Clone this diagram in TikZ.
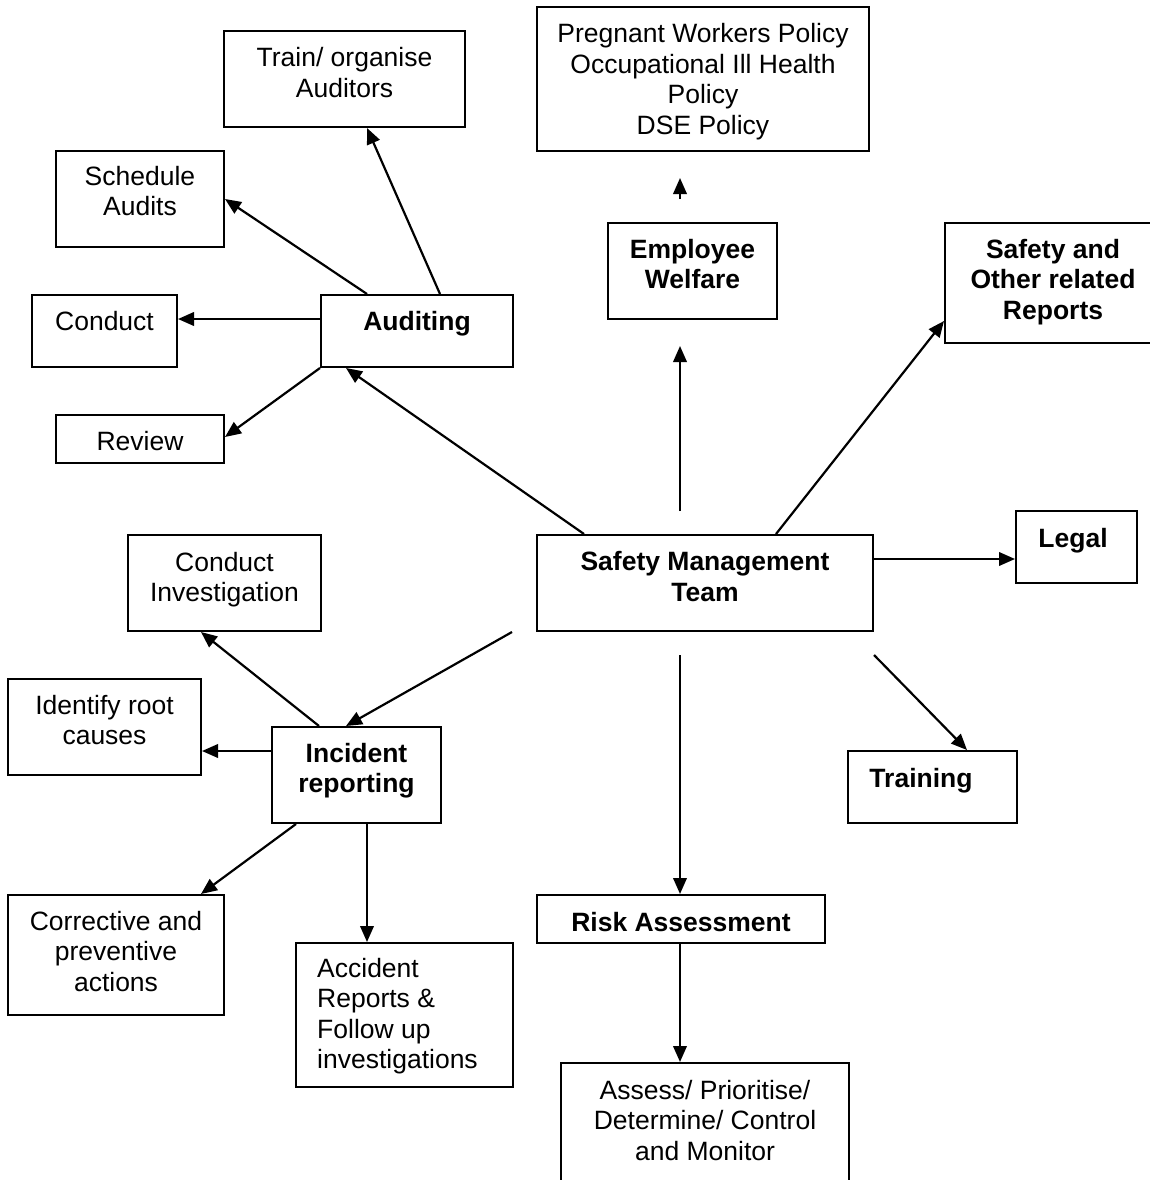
\documentclass[tikz,border=0pt]{standalone}
\usepackage{fontspec}
\setmainfont{Liberation Sans}
\usetikzlibrary{arrows.meta}

\tikzset{
  box/.style={draw, line width=2pt, rectangle, inner sep=0pt},
  % text nodes are placed by the baseline of their last line
  lbl/.style={anchor=base, align=center, inner sep=0pt,
    font=\fontsize{26.5}{30.5}\selectfont},
  blbl/.style={lbl, font=\fontsize{26.5}{30.5}\selectfont\bfseries},
  link/.style={line width=2.2pt, -{Triangle[length=16pt,width=13.5pt]}}
}

\begin{document}
\begin{tikzpicture}[x=1pt,y=-1pt]
\fill[white] (0,0) rectangle (1149,1180);
\useasboundingbox (0,0) rectangle (1149,1180);

% boxes
\node[box, minimum width=241pt, minimum height=96pt]  (train)  at (344.5,79)   {};
\node[box, minimum width=332pt, minimum height=144pt] (preg)   at (703,79)     {};
\node[box, minimum width=168pt, minimum height=96pt]  (sched)  at (140,199)    {};
\node[box, minimum width=169pt, minimum height=96pt]  (welf)   at (692.5,271)  {};
\node[box, minimum width=215pt, minimum height=120pt] (reps)   at (1052.5,283) {};
\node[box, minimum width=145pt, minimum height=72pt]  (cond)   at (104.5,331)  {};
\node[box, minimum width=192pt, minimum height=72pt]  (aud)    at (417,331)    {};
\node[box, minimum width=168pt, minimum height=48pt]  (rev)    at (140,439)    {};
\node[box, minimum width=336pt, minimum height=96pt]  (smt)    at (705,583)    {};
\node[box, minimum width=121pt, minimum height=72pt]  (legal)  at (1076.5,547) {};
\node[box, minimum width=169pt, minimum height=72pt]  (trn)    at (932.5,787)  {};
\node[box, minimum width=193pt, minimum height=96pt]  (inv)    at (224.5,583)  {};
\node[box, minimum width=193pt, minimum height=96pt]  (ident)  at (104.5,727)  {};
\node[box, minimum width=169pt, minimum height=96pt]  (inc)    at (356.5,775)  {};
\node[box, minimum width=216pt, minimum height=120pt] (corr)   at (116,955)    {};
\node[box, minimum width=217pt, minimum height=144pt] (acc)    at (404.5,1015) {};
\node[box, minimum width=288pt, minimum height=48pt]  (risk)   at (681,919)    {};
\node[box, minimum width=288pt, minimum height=137pt] (assess) at (705,1131.5) {};

% texts
\node[lbl]  (t-train)  at (344.5,97.5)  {Train/ organise\\Auditors};
\node[lbl]  (t-preg)   at (703,134.5)   {Pregnant Workers Policy\\Occupational Ill Health\\Policy\\DSE Policy};
\node[lbl]  (t-sched)  at (140,215.5)   {Schedule\\Audits};
\node[blbl] (t-welf)   at (692.5,288.5) {Employee\\Welfare};
\node[blbl] (t-reps)   at (1053,319)    {Safety and\\Other related\\Reports};
\node[lbl]  (t-cond)   at (104.5,330)   {Conduct};
\node[blbl] (t-aud)    at (417,330)     {Auditing};
\node[lbl]  (t-rev)    at (140,450)     {Review};
\node[blbl] (t-smt)    at (705,601)     {Safety Management\\Team};
\node[blbl] (t-legal)  at (1073,547)    {Legal};
\node[blbl] (t-trn)    at (921,787)     {Training};
\node[lbl]  (t-inv)    at (224.5,601.5) {Conduct\\Investigation};
\node[lbl]  (t-ident)  at (104.5,744.5) {Identify root\\causes};
\node[blbl] (t-inc)    at (356.5,792.5) {Incident\\reporting};
\node[lbl]  (t-corr)   at (116,991)     {Corrective and\\preventive\\actions};
\node[lbl, anchor=base west, align=left] (t-acc) at (317,1068.5)
  {Accident\\Reports \&\\Follow up\\investigations};
\node[blbl] (t-risk)   at (681,931)     {Risk Assessment};
\node[lbl]  (t-assess) at (705,1160)    {Assess/ Prioritise/\\Determine/ Control\\and Monitor};

% connectors
\draw[link] ([xshift=120pt]aud.north west) -- ([xshift=144pt]train.south west);
\draw[link] ([xshift=47pt]aud.north west) -- (sched.east);
\draw[link] ([yshift=12pt]aud.west) -- ([yshift=12pt]cond.east);
\draw[link] (aud.south west) -- ([yshift=2pt]rev.east);
\draw[link] ([xshift=48pt]smt.north west) -- ([xshift=26pt]aud.south west);
\draw[link] ([xshift=144pt,yshift=23pt]smt.north west) -- ([xshift=73pt,yshift=-26pt]welf.south west);
\draw[link] ([xshift=73pt,yshift=23pt]welf.north west) -- ([xshift=144pt,yshift=-26pt]preg.south west);
\draw[link] ([xshift=240pt]smt.north west) -- ([yshift=23pt]reps.south west);
\draw[link] ([yshift=24pt]smt.east) -- ([yshift=-12pt]legal.west);
\draw[link] ([xshift=-24pt]smt.south west) -- ([xshift=75pt]inc.north west);
\draw[link] ([xshift=144pt,yshift=-23pt]smt.south west) -- ([xshift=144pt]risk.north west);
\draw[link] ([yshift=-23pt]smt.south east) -- ([xshift=120pt]trn.north west);
\draw[link] ([xshift=48pt]inc.north west) -- ([xshift=74pt]inv.south west);
\draw[link] ([yshift=24pt]inc.west) -- ([yshift=-24pt]ident.east);
\draw[link] ([xshift=25pt]inc.south west) -- ([xshift=194pt]corr.north west);
\draw[link] ([xshift=96pt]inc.south west) -- ([xshift=72pt]acc.north west);
\draw[link] ([xshift=144pt]risk.south west) -- ([xshift=120pt]assess.north west);
\end{tikzpicture}
\end{document}
